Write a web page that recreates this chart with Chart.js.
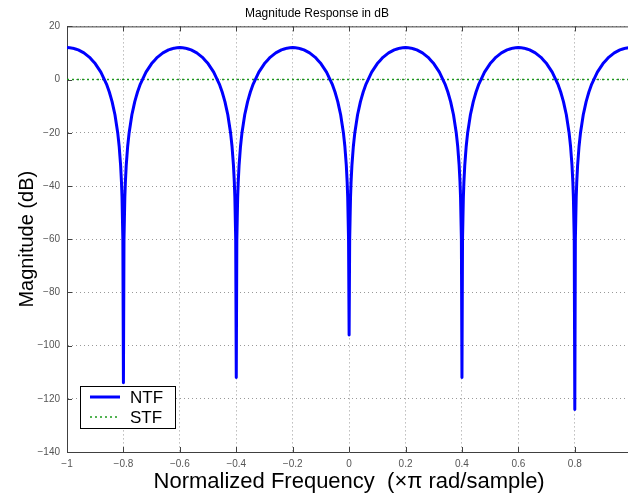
<!DOCTYPE html>
<html>
<head>
<meta charset="utf-8">
<script src="https://cdn.jsdelivr.net/npm/chart.js@4/dist/chart.umd.min.js"></script>
<style>
  html, body { margin: 0; padding: 0; background: #fff; overflow: hidden; }
  #wrap { width: 640px; height: 493px; }
</style>
</head>
<body>
<div id="wrap"><canvas id="myChart" width="640" height="493"></canvas></div>
<script>
// 頻率軸 (×π rad/sample)
const freqX = [
  -1.00, -0.98, -0.96, -0.94, -0.92, -0.90, -0.88, -0.86, -0.85, -0.84, -0.83, -0.82, -0.815, -0.81, -0.807, -0.805, -0.802,
  -0.80,
  -0.798, -0.795, -0.793, -0.79, -0.785, -0.78, -0.77, -0.76, -0.75, -0.74, -0.72, -0.70, -0.68, -0.66, -0.64, -0.62, -0.60,
  -0.58, -0.56, -0.54, -0.52, -0.50, -0.48, -0.46, -0.45, -0.44, -0.43, -0.42, -0.415, -0.41, -0.407, -0.405, -0.402,
  -0.40,
  -0.398, -0.395, -0.393, -0.39, -0.385, -0.38, -0.37, -0.36, -0.35, -0.34, -0.32, -0.30, -0.28, -0.26, -0.24, -0.22, -0.20,
  -0.18, -0.16, -0.14, -0.12, -0.10, -0.08, -0.06, -0.05, -0.04, -0.03, -0.02, -0.015, -0.01, -0.007, -0.005, -0.002,
  0.00,
  0.002, 0.005, 0.007, 0.01, 0.015, 0.02, 0.03, 0.04, 0.05, 0.06, 0.08, 0.10, 0.12, 0.14, 0.16, 0.18, 0.20,
  0.22, 0.24, 0.26, 0.28, 0.30, 0.32, 0.34, 0.35, 0.36, 0.37, 0.38, 0.385, 0.39, 0.393, 0.395, 0.398,
  0.40,
  0.402, 0.405, 0.407, 0.41, 0.415, 0.42, 0.43, 0.44, 0.45, 0.46, 0.48, 0.50, 0.52, 0.54, 0.56, 0.58, 0.60,
  0.62, 0.64, 0.66, 0.68, 0.70, 0.72, 0.74, 0.75, 0.76, 0.77, 0.78, 0.785, 0.79, 0.793, 0.795, 0.798,
  0.80,
  0.802, 0.805, 0.807, 0.81, 0.815, 0.82, 0.83, 0.84, 0.85, 0.86, 0.88, 0.90, 0.92, 0.94, 0.96, 0.98, 1.00
];

// NTF 幅度 (dB)
const ntfDb = [
  12.04, 11.82, 11.17, 10.04, 8.36, 6.02, 2.81, -1.68, -4.65, -8.36, -13.23, -20.19, -25.15, -32.17, -38.36, -44.20, -60.12,
  -114,
  -60.12, -44.20, -38.36, -32.17, -25.15, -20.19, -13.23, -8.36, -4.65, -1.68, 2.81, 6.02, 8.36, 10.04, 11.17, 11.82, 12.04,
  11.82, 11.17, 10.04, 8.36, 6.02, 2.81, -1.68, -4.65, -8.36, -13.23, -20.19, -25.15, -32.17, -38.36, -44.20, -60.12,
  -112,
  -60.12, -44.20, -38.36, -32.17, -25.15, -20.19, -13.23, -8.36, -4.65, -1.68, 2.81, 6.02, 8.36, 10.04, 11.17, 11.82, 12.04,
  11.82, 11.17, 10.04, 8.36, 6.02, 2.81, -1.68, -4.65, -8.36, -13.23, -20.19, -25.15, -32.17, -38.36, -44.20, -60.12,
  -96,
  -60.12, -44.20, -38.36, -32.17, -25.15, -20.19, -13.23, -8.36, -4.65, -1.68, 2.81, 6.02, 8.36, 10.04, 11.17, 11.82, 12.04,
  11.82, 11.17, 10.04, 8.36, 6.02, 2.81, -1.68, -4.65, -8.36, -13.23, -20.19, -25.15, -32.17, -38.36, -44.20, -60.12,
  -112,
  -60.12, -44.20, -38.36, -32.17, -25.15, -20.19, -13.23, -8.36, -4.65, -1.68, 2.81, 6.02, 8.36, 10.04, 11.17, 11.82, 12.04,
  11.82, 11.17, 10.04, 8.36, 6.02, 2.81, -1.68, -4.65, -8.36, -13.23, -20.19, -25.15, -32.17, -38.36, -44.20, -60.12,
  -124,
  -60.12, -44.20, -38.36, -32.17, -25.15, -20.19, -13.23, -8.36, -4.65, -1.68, 2.81, 6.02, 8.36, 10.04, 11.17, 11.82, 12.04
];

// STF 幅度 (dB)
const stfX = [-1, 1];
const stfDb = [0, 0];

const seriesNames = ["NTF", "STF"];
const chartTitle = "Magnitude Response in dB";
const xTitle = "Normalized Frequency  (\u00D7\u03C0 rad/sample)";
const yTitle = "Magnitude (dB)";

const fontFamily = "'Liberation Sans', Arial, Helvetica, sans-serif";

function fmtTick(v) {
  const r = Math.round(v * 10) / 10;
  return String(r).replace("-", "\u2212");
}

// MATLAB 風格：上框線、內側刻度、圖例
const matlabFrame = {
  id: "matlabFrame",
  afterDraw(chart) {
    const { ctx, chartArea: a, scales } = chart;
    ctx.save();
    ctx.strokeStyle = "#404040";
    ctx.lineWidth = 1;
    ctx.beginPath();
    ctx.moveTo(a.left, a.top + 0.5);
    ctx.lineTo(a.right, a.top + 0.5);
    const tl = 5;
    scales.x.ticks.forEach((t) => {
      const px = Math.round(scales.x.getPixelForValue(t.value)) + 0.5;
      ctx.moveTo(px, a.bottom);
      ctx.lineTo(px, a.bottom - tl);
      ctx.moveTo(px, a.top);
      ctx.lineTo(px, a.top + tl);
    });
    scales.y.ticks.forEach((t) => {
      const py = Math.round(scales.y.getPixelForValue(t.value)) + 0.5;
      ctx.moveTo(a.left, py);
      ctx.lineTo(a.left + tl, py);
    });
    ctx.stroke();

    // 圖例
    const bx = a.left + 13, by = a.bottom - 66, bw = 95, bh = 42;
    ctx.fillStyle = "#fff";
    ctx.fillRect(bx, by, bw, bh);
    ctx.strokeStyle = "#000";
    ctx.strokeRect(bx + 0.5, by + 0.5, bw, bh);
    ctx.font = "17px " + fontFamily;
    ctx.textBaseline = "middle";
    chart.data.datasets.forEach((ds, i) => {
      const ly = by + 11 + i * 20;
      ctx.strokeStyle = ds.borderColor;
      ctx.lineWidth = ds.borderWidth;
      ctx.setLineDash(ds.borderDash || []);
      ctx.beginPath();
      ctx.moveTo(bx + 10, ly);
      ctx.lineTo(bx + 40, ly);
      ctx.stroke();
      ctx.setLineDash([]);
      ctx.fillStyle = "#000";
      ctx.fillText(ds.label, bx + 50, ly + 1);
    });
    ctx.restore();
  },
};

const ctx = document.querySelector("#myChart").getContext("2d");

new Chart(ctx, {
  type: "line",
  data: {
    datasets: [
      {
        label: seriesNames[0],
        data: freqX.map((x, i) => ({ x: x, y: ntfDb[i] })),
        borderColor: "#0000ff",
        borderWidth: 3,
        borderJoinStyle: "round",
        pointRadius: 0,
        tension: 0.0001, // 避開 fastPath 合併同像素點造成的鋸齒
        fill: false,
      },
      {
        label: seriesNames[1],
        data: stfX.map((x, i) => ({ x: x, y: stfDb[i] })),
        borderColor: "#1a9a1a",
        borderWidth: 1.5,
        borderDash: [2, 3],
        pointRadius: 0,
        fill: false,
      },
    ],
  },
  options: {
    responsive: false,
    animation: false,
    layout: { padding: { left: 0, right: 6, top: 0, bottom: 0 } },
    plugins: {
      legend: { display: false },
      tooltip: { enabled: false },
      title: {
        display: true,
        text: chartTitle,
        color: "#000",
        font: { family: fontFamily, size: 12, weight: "normal" },
        padding: { top: 6, bottom: 6 },
      },
    },
    scales: {
      x: {
        type: "linear",
        min: -1,
        max: 1,
        afterFit(scale) { scale.height = 41; },
        ticks: {
          stepSize: 0.2,
          padding: 6,
          color: "#555",
          font: { family: fontFamily, size: 10 },
          maxRotation: 0,
          callback: fmtTick,
        },
        grid: { color: "#999", lineWidth: 1, drawTicks: false },
        border: { display: true, color: "#404040", width: 1, dash: [1, 3] },
        title: {
          display: true,
          text: xTitle,
          color: "#000",
          font: { family: fontFamily, size: 22, lineHeight: 1 },
          padding: { top: 0, bottom: 0 },
        },
      },
      y: {
        min: -140,
        max: 20,
        afterFit(scale) { scale.width = 67; },
        ticks: {
          stepSize: 20,
          padding: 7,
          color: "#555",
          font: { family: fontFamily, size: 10 },
          callback: fmtTick,
        },
        grid: { color: "#999", lineWidth: 1, drawTicks: false },
        border: { display: true, color: "#404040", width: 1, dash: [1, 3] },
        title: {
          display: true,
          text: yTitle,
          color: "#000",
          font: { family: fontFamily, size: 20 },
          padding: { top: 15, bottom: 0 },
        },
      },
    },
  },
  plugins: [matlabFrame],
});
</script>
</body>
</html>
